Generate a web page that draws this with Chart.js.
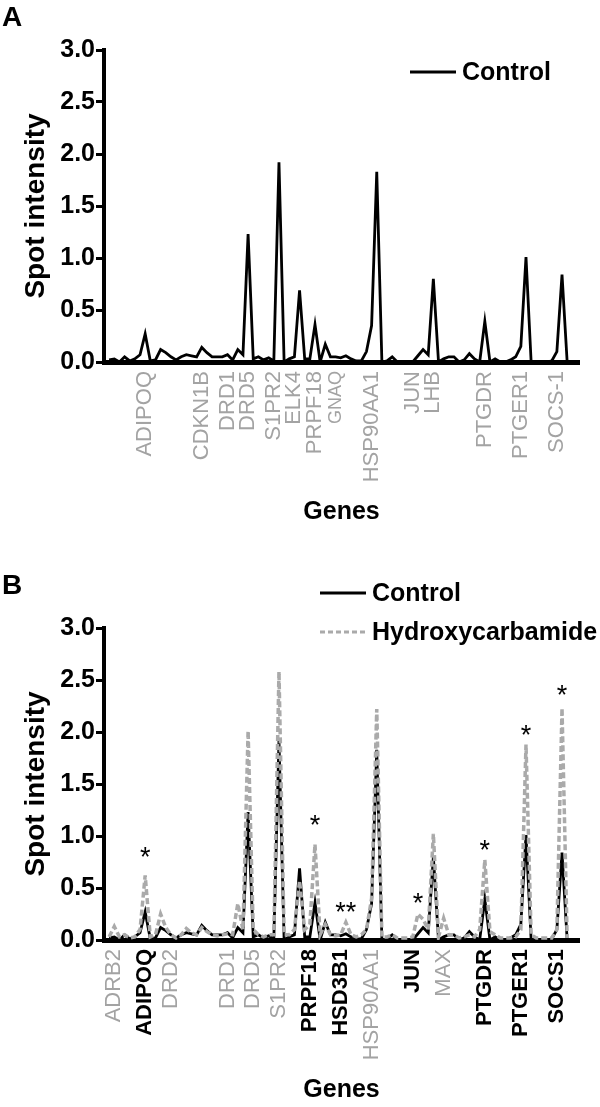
<!DOCTYPE html>
<html>
<head>
<meta charset="utf-8">
<script src="https://cdn.jsdelivr.net/npm/chart.js@4.4.0/dist/chart.umd.min.js"></script>
<style>
  html, body { margin: 0; padding: 0; background: #fff; }
  canvas { display: block; }
</style>
</head>
<body>
<canvas id="chartA" width="600" height="545"></canvas>
<canvas id="chartB" width="600" height="562"></canvas>
<script>
// spot intensities, one value per spot, in array order (left to right)
var control = [
  0.02, 0.03, 0.00, 0.05, 0.01, 0.03, 0.07, 0.27, 0.01, 0.02,
  0.12, 0.09, 0.05, 0.02, 0.05, 0.07, 0.06, 0.05, 0.14, 0.09,
  0.05, 0.05, 0.05, 0.07, 0.02, 0.12, 0.07, 1.23, 0.03, 0.05,
  0.02, 0.04, 0.01, 1.92, 0.00, 0.03, 0.05, 0.69, 0.03, 0.03,
  0.36, 0.00, 0.17, 0.05, 0.05, 0.04, 0.06, 0.03, 0.01, 0.01,
  0.10, 0.35, 1.83, 0.00, 0.01, 0.05, 0.00, 0.00, 0.00, 0.00,
  0.06, 0.12, 0.07, 0.80, 0.00, 0.03, 0.05, 0.05, 0.00, 0.02,
  0.08, 0.03, 0.00, 0.39, 0.00, 0.03, 0.00, 0.00, 0.02, 0.05,
  0.15, 1.01, 0.00, 0.00, 0.00, 0.00, 0.01, 0.10, 0.84, 0.00
];
var hydroxycarbamide = [
  0.03, 0.13, 0.03, 0.05, 0.02, 0.03, 0.10, 0.62, 0.03, 0.05,
  0.25, 0.12, 0.05, 0.02, 0.05, 0.11, 0.07, 0.05, 0.12, 0.08,
  0.05, 0.04, 0.05, 0.06, 0.05, 0.35, 0.10, 2.01, 0.10, 0.05,
  0.03, 0.05, 0.05, 2.58, 0.05, 0.05, 0.10, 0.57, 0.10, 0.15,
  0.92, 0.05, 0.15, 0.05, 0.04, 0.05, 0.17, 0.05, 0.03, 0.05,
  0.10, 0.40, 2.22, 0.03, 0.03, 0.05, 0.02, 0.02, 0.02, 0.03,
  0.25, 0.20, 0.10, 1.02, 0.03, 0.21, 0.05, 0.05, 0.02, 0.03,
  0.05, 0.03, 0.10, 0.77, 0.08, 0.05, 0.02, 0.02, 0.02, 0.03,
  0.10, 1.88, 0.05, 0.02, 0.02, 0.02, 0.02, 0.10, 2.23, 0.02
];

// genes named under the x axis (spot number + name)
var genesAIdx = [7, 18, 23, 27, 32, 36, 40, 44, 51, 59, 63, 73, 80, 87];
var genesA = ['ADIPOQ', 'CDKN1B', 'DRD1', 'DRD5', 'S1PR2', 'ELK4', 'PRPF18',
  'GNAQ', 'HSP90AA1', 'JUN', 'LHB', 'PTGDR', 'PTGER1', 'SOCS-1'];
var genesBIdx = [1, 7, 12, 23, 28, 33, 39, 45, 51, 59, 65, 73, 80, 87];
var genesB = ['ADRB2', 'ADIPOQ', 'DRD2', 'DRD1', 'DRD5', 'S1PR2', 'PRPF18',
  'HSD3B1', 'HSP90AA1', 'JUN', 'MAX', 'PTGDR', 'PTGER1', 'SOCS1'];
// genes changed by hydroxycarbamide (black labels in B)
var changedB = ['ADIPOQ', 'PRPF18', 'HSD3B1', 'JUN', 'PTGDR', 'PTGER1', 'SOCS1'];

// significance marks in B
var starIdx = [7, 40, 46, 60, 73, 81, 88];
var starY = [0.86, 1.16, 0.33, 0.41, 0.92, 2.03, 2.41];
var starText = ['*', '*', '**', '*', '*', '*', '*'];

var yTicks = [0, 0.5, 1, 1.5, 2, 2.5, 3];

var FONT = '"Liberation Sans", Arial, Helvetica, sans-serif';
var GREY = '#a3a3a3';

function points(arr) {
  return arr.map(function (v, i) { return { x: i, y: v }; });
}

// panel letter, legend and asterisks
var decor = {
  id: 'decor',
  afterDraw: function (chart, args, o) {
    var ctx = chart.ctx;
    ctx.save();
    ctx.fillStyle = '#000';
    ctx.textAlign = 'left';
    ctx.textBaseline = 'alphabetic';
    ctx.font = 'bold 28px ' + FONT;
    ctx.fillText(o.letter, 2, o.letterY);

    o.legendY.forEach(function (y, k) {
      var ds = chart.data.datasets[k];
      ctx.strokeStyle = ds.borderColor;
      ctx.lineWidth = 3;
      ctx.setLineDash(ds.borderDash ? [5, 3] : []);
      ctx.beginPath();
      ctx.moveTo(o.legendX, y);
      ctx.lineTo(o.legendX + 46, y);
      ctx.stroke();
      ctx.setLineDash([]);
      ctx.font = 'bold 25px ' + FONT;
      ctx.textBaseline = 'middle';
      ctx.fillText(ds.label, o.legendX + 52, y + 1);
    });

    if (o.stars) {
      var xs = chart.scales.x, ys = chart.scales.y;
      ctx.font = '27px ' + FONT;
      ctx.textAlign = 'center';
      ctx.textBaseline = 'alphabetic';
      starIdx.forEach(function (idx, k) {
        ctx.fillText(starText[k], xs.getPixelForValue(idx), ys.getPixelForValue(starY[k]) + 15);
      });
    }
    ctx.restore();
  }
};

function buildChart(id, datasets, geneIdx, geneNames, isBold, padTop, xHeight, titlePad, decorOpts) {
  return new Chart(document.getElementById(id), {
    type: 'line',
    data: { datasets: datasets },
    options: {
      responsive: false,
      animation: false,
      layout: { padding: { top: padTop, right: 21, left: 0, bottom: 0 } },
      elements: { point: { radius: 0 }, line: { tension: 0 } },
      plugins: {
        legend: { display: false },
        tooltip: { enabled: false },
        decor: decorOpts
      },
      scales: {
        x: {
          type: 'linear',
          min: -1,
          max: 91.3,
          bounds: 'data',
          grid: { display: false, drawTicks: false },
          border: { display: true, color: '#000', width: 5 },
          afterBuildTicks: function (s) {
            s.ticks = geneIdx.map(function (v) { return { value: v }; });
          },
          afterFit: function (s) { s.height = xHeight; },
          ticks: {
            autoSkip: false,
            minRotation: 90,
            maxRotation: 90,
            padding: 9,
            callback: function (v, i) { return geneNames[i]; },
            color: function (c) { return isBold(geneNames[c.index]) ? '#000' : GREY; },
            font: function (c) {
              var n = geneNames[c.index];
              return {
                family: FONT,
                size: n === 'GNAQ' ? 18 : 22,
                weight: isBold(n) ? 'bold' : 'normal'
              };
            }
          },
          title: {
            display: true,
            text: 'Genes',
            color: '#000',
            font: { family: FONT, size: 25, weight: 'bold' },
            padding: { top: 0, bottom: titlePad }
          }
        },
        y: {
          min: 0,
          max: 3,
          afterBuildTicks: function (s) {
            s.ticks = yTicks.map(function (v) { return { value: v }; });
          },
          afterFit: function (s) { s.width = 104; },
          grid: {
            display: true,
            drawOnChartArea: false,
            drawTicks: true,
            tickLength: 8,
            tickWidth: 3,
            tickColor: '#000'
          },
          border: { display: true, color: '#000', width: 4 },
          ticks: {
            padding: 1,
            color: '#000',
            font: { family: FONT, size: 25, weight: 'bold' },
            callback: function (v) { return v.toFixed(1); }
          },
          title: {
            display: true,
            text: 'Spot intensity',
            color: '#000',
            font: { family: FONT, size: 28, weight: 'bold' },
            padding: { top: 19, bottom: 0 }
          }
        }
      }
    },
    plugins: [decor]
  });
}

buildChart('chartA', [{
  label: 'Control',
  data: points(control),
  borderColor: '#000',
  borderWidth: 2.8,
  fill: false
}], genesAIdx, genesA, function () { return false; }, 50, 183, 18,
  { letter: 'A', letterY: 26, legendX: 410, legendY: [72], stars: false });

buildChart('chartB', [{
  label: 'Control',
  data: points(control),
  borderColor: '#000',
  borderWidth: 2.8,
  fill: false,
  order: 2
}, {
  label: 'Hydroxycarbamide',
  data: points(hydroxycarbamide),
  borderColor: '#aaaaaa',
  borderWidth: 3.5,
  borderDash: [6, 3],
  fill: false,
  order: 1
}], genesBIdx, genesB, function (n) { return changedB.indexOf(n) >= 0; }, 83, 167, 2,
  { letter: 'B', letterY: 49, legendX: 320, legendY: [48, 87], stars: true });
</script>
</body>
</html>
